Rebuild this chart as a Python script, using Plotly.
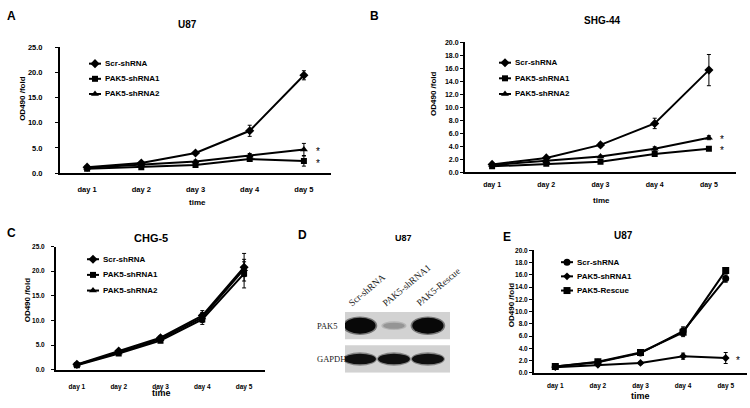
import plotly.graph_objects as go

W, H = 750, 408
days = ["day 1", "day 2", "day 3", "day 4", "day 5"]

# ---- Panel A: U87 ----
a_names = ["Scr-shRNA", "PAK5-shRNA1", "PAK5-shRNA2"]
a_scr = [1.2, 2.0, 4.0, 8.4, 19.4]
a_scr_err = [0.2, 0.3, 0.3, 1.1, 0.9]
a_sh1 = [0.9, 1.2, 1.6, 2.8, 2.4]
a_sh1_err = [0.1, 0.2, 0.2, 0.4, 1.0]
a_sh2 = [1.1, 1.7, 2.3, 3.5, 4.7]
a_sh2_err = [0.1, 0.2, 0.3, 0.4, 1.2]

# ---- Panel B: SHG-44 ----
b_names = ["Scr-shRNA", "PAK5-shRNA1", "PAK5-shRNA2"]
b_scr = [1.2, 2.2, 4.2, 7.5, 15.7]
b_scr_err = [0.2, 0.2, 0.3, 0.8, 2.4]
b_sh1 = [0.9, 1.3, 1.6, 2.8, 3.6]
b_sh1_err = [0.1, 0.1, 0.2, 0.3, 0.2]
b_sh2 = [1.1, 1.7, 2.4, 3.6, 5.3]
b_sh2_err = [0.1, 0.2, 0.2, 0.3, 0.3]

# ---- Panel C: CHG-5 ----
c_names = ["Scr-shRNA", "PAK5-shRNA1", "PAK5-shRNA2"]
c_scr = [1.1, 3.8, 6.5, 11.0, 20.8]
c_scr_err = [0.2, 0.3, 0.4, 1.0, 2.8]
c_sh1 = [0.9, 3.3, 5.9, 10.2, 19.5]
c_sh1_err = [0.2, 0.3, 0.4, 1.0, 2.9]
c_sh2 = [1.0, 3.5, 6.2, 10.6, 20.4]
c_sh2_err = [0.2, 0.3, 0.4, 1.0, 1.5]

# ---- Panel D: western blot U87 ----
d_lanes = ["Scr-shRNA", "PAK5-shRNA1", "PAK5-Rescue"]
d_rows = ["PAK5", "GAPDH"]
d_pak5 = [1.0, 0.22, 1.0]
d_gapdh = [0.9, 0.9, 0.9]

# ---- Panel E: U87 rescue ----
e_names = ["Scr-shRNA", "PAK5-shRNA1", "PAK5-Rescue"]
e_scr = [1.0, 1.7, 3.2, 6.8, 15.4]
e_scr_err = [0.2, 0.2, 0.3, 0.7, 0.6]
e_sh1 = [0.9, 1.3, 1.6, 2.7, 2.4]
e_sh1_err = [0.1, 0.2, 0.2, 0.5, 0.9]
e_res = [1.0, 1.8, 3.3, 6.6, 16.7]
e_res_err = [0.2, 0.2, 0.3, 0.7, 0.5]

FONT = "Liberation Sans, Arial, sans-serif"
SERIF = "Liberation Serif, Times New Roman, serif"
SYM_ABC = ["diamond", "square", "triangle-up"]
SYM_E = ["circle", "diamond", "square"]
SIZES = [7, 6, 7]


def px_x(px):
    return px / W


def px_y(py):
    return 1 - py / H


fig = go.Figure()


def add_series(xa, ya, names, values, errs, symbols):
    for n, v, e, s, sz in zip(names, values, errs, symbols, SIZES):
        fig.add_trace(go.Scatter(
            x=days, y=v, name=n, mode="lines+markers",
            xaxis=xa, yaxis=ya, showlegend=False,
            line=dict(color="black", width=2),
            marker=dict(symbol=s, size=sz, color="black"),
            error_y=dict(type="data", array=e, color="black", thickness=1, width=2),
        ))


add_series("x", "y", a_names, [a_scr, a_sh1, a_sh2], [a_scr_err, a_sh1_err, a_sh2_err], SYM_ABC)
add_series("x2", "y2", b_names, [b_scr, b_sh1, b_sh2], [b_scr_err, b_sh1_err, b_sh2_err], SYM_ABC)
add_series("x3", "y3", c_names, [c_scr, c_sh1, c_sh2], [c_scr_err, c_sh1_err, c_sh2_err], SYM_ABC)
add_series("x4", "y4", e_names, [e_scr, e_sh1, e_res], [e_scr_err, e_sh1_err, e_res_err], SYM_E)


def xaxis(x0, x1, anchor, tsize, standoff):
    return dict(domain=[px_x(x0), px_x(x1)], anchor=anchor, type="category",
                categoryorder="array", categoryarray=days, range=[-0.5, len(days) - 0.5],
                showline=True, linecolor="black", linewidth=2, ticks="",
                showgrid=False, zeroline=False,
                tickfont=dict(family=FONT, size=tsize, color="black", weight="bold"),
                ticklabelstandoff=standoff, fixedrange=True)


def yaxis(y_bottom, y_top, anchor, rng, dtick, tsize, standoff):
    return dict(domain=[px_y(y_bottom), px_y(y_top)], anchor=anchor, range=rng,
                dtick=dtick, tickformat=".1f",
                showline=True, linecolor="black", linewidth=2,
                ticks="outside", ticklen=3, tickcolor="black", tickwidth=1,
                showgrid=False, zeroline=False,
                tickfont=dict(family=FONT, size=tsize, color="black", weight="bold"),
                ticklabelstandoff=standoff, fixedrange=True)


layout = dict(
    width=W, height=H, margin=dict(l=0, r=0, t=0, b=0),
    paper_bgcolor="white", plot_bgcolor="rgba(0,0,0,0)",
    font=dict(family=FONT, color="black"),
    showlegend=False,
    xaxis=xaxis(60, 331, "y", 7.5, 8),
    yaxis=yaxis(173, 44, "x", [0, 25], 5, 7.5, 11),
    xaxis2=xaxis(465, 736, "y2", 7, 4),
    yaxis2=yaxis(172, 39, "x2", [0, 20], 2, 7, 0),
    xaxis3=xaxis(56, 265, "y3", 6.5, 9),
    yaxis3=yaxis(374, 248, "x3", [0, 25], 5, 6.5, 5),
    xaxis4=xaxis(534, 747, "y4", 6.5, 6),
    yaxis4=yaxis(377, 252, "x4", [0, 20], 2, 6.5, 0),
    xaxis5=dict(domain=[px_x(345), px_x(450)], anchor="y5", range=[0.56, 3.65],
                visible=False, fixedrange=True),
    yaxis5=dict(domain=[px_y(377), px_y(315)], anchor="x5", range=[0.59, 2.41],
                visible=False, fixedrange=True),
    # page-sized overlay used only to place the hand-drawn legend keys
    xaxis6=dict(domain=[0, 1], anchor="y6", range=[0, W], visible=False, fixedrange=True),
    yaxis6=dict(domain=[0, 1], anchor="x6", range=[H, 0], visible=False, fixedrange=True),
)
fig.update_layout(**layout)

ann = []


def txt(x, y, t, size, bold=True, family=FONT, angle=0, xa="center", ya="middle"):
    ann.append(dict(x=px_x(x), y=px_y(y), xref="paper", yref="paper",
                    text=("<b>%s</b>" % t) if bold else t,
                    showarrow=False, font=dict(family=family, size=size, color="black"),
                    textangle=angle, xanchor=xa, yanchor=ya))


# panel letters
txt(11, 12, "A", 12)
txt(374, 12, "B", 12)
txt(11, 234, "C", 12)
txt(302, 236, "D", 12)
txt(507, 238, "E", 12)
# titles
txt(187, 21, "U87", 10)
txt(602, 17, "SHG-44", 10)
txt(151, 239, "CHG-5", 11)
txt(403, 239, "U87", 9)
txt(623, 237, "U87", 10)
# y titles
txt(23, 97, "OD490 /fold", 8, angle=-90)
txt(434, 92, "OD490 /fold", 8, angle=-90)
txt(27, 302, "OD490 /fold", 8, angle=-90)
txt(511, 308, "OD490 /fold", 8, angle=-90)
# x titles
txt(197, 203, "time", 8)
txt(601, 201, "time", 8)
txt(161, 398, "time", 9)
txt(640, 401, "time", 9)


# hand-drawn legends (short keys like the original)
def legend(x0, y0, gap, names, symbols, size=8):
    for k, (n, s, sz) in enumerate(zip(names, symbols, SIZES)):
        yy = y0 + k * gap
        fig.add_trace(go.Scatter(x=[x0, x0 + 12], y=[yy, yy], mode="lines", xaxis="x6", yaxis="y6",
                                 line=dict(color="black", width=2), showlegend=False, hoverinfo="skip"))
        fig.add_trace(go.Scatter(x=[x0 + 6], y=[yy], mode="markers", xaxis="x6", yaxis="y6",
                                 marker=dict(symbol=s, size=sz, color="black"),
                                 showlegend=False, hoverinfo="skip"))
        txt(x0 + 14, yy, n, size, xa="left")


legend(89, 61, 15.5, a_names, SYM_ABC)
legend(499, 60, 16, b_names, SYM_ABC)
legend(87, 261, 16, c_names, SYM_ABC)
legend(561, 264, 14.5, e_names, SYM_E)

# western blot lane labels and row labels
for i, lane in enumerate(d_lanes):
    ann.append(dict(x=i + 0.6, y=px_y(314), xref="x5", yref="paper", text=lane, showarrow=False,
                    textangle=-40, xanchor="left", yanchor="bottom", xshift=-2,
                    font=dict(family=SERIF, size=9.5, color="#1a1a1a")))
row_shift = [-6, 3]
for r, row in enumerate(d_rows):
    yc = 2 - r
    ann.append(dict(x=0.56, y=yc, xref="x5", yref="y5", text=row, showarrow=False,
                    xanchor="right", xshift=row_shift[r],
                    font=dict(family=SERIF, size=8.5, color="#1a1a1a")))

fig.update_layout(annotations=ann)


# significance stars anchored to data
def star(xa, ya, y, shift):
    fig.add_annotation(x=days[-1], y=y, xref=xa, yref=ya, text="*", showarrow=False,
                       xshift=shift, yshift=-2, font=dict(family=FONT, size=10, color="black"))


star("x", "y", a_sh2[-1], 14)
star("x", "y", a_sh1[-1], 14)
star("x2", "y2", b_sh2[-1], 13)
star("x2", "y2", b_sh1[-1], 13)
star("x4", "y4", e_sh1[-1], 12)

# blot backgrounds and bands
for r, row in enumerate(d_rows):
    yc = 2 - r
    fig.add_shape(type="rect", xref="x5", yref="y5", x0=0.56, x1=3.65, y0=yc - 0.41, y1=yc + 0.41,
                  fillcolor="#d2d2d2", line=dict(width=0), layer="below")

for i, v in enumerate(d_pak5):
    x = i + 1
    hw = 0.28 + 0.18 * v
    hh = 0.05 + 0.19 * v
    g = int(190 - 182 * v)
    fig.add_shape(type="circle", xref="x5", yref="y5", x0=x - hw - 0.05, x1=x + hw + 0.05,
                  y0=2 - hh - 0.04, y1=2 + hh + 0.04,
                  fillcolor="rgba(%d,%d,%d,0.45)" % (g, g, g), line=dict(width=0))
    fig.add_shape(type="circle", xref="x5", yref="y5", x0=x - hw, x1=x + hw, y0=2 - hh, y1=2 + hh,
                  fillcolor="rgb(%d,%d,%d)" % (g, g, g), line=dict(width=0))
for i, v in enumerate(d_gapdh):
    x = i + 1
    hw = 0.47 * v / 0.9
    hh = 0.16 * v / 0.9
    fig.add_shape(type="circle", xref="x5", yref="y5", x0=x - hw - 0.03, x1=x + hw + 0.03,
                  y0=1 - hh - 0.04, y1=1 + hh + 0.04,
                  fillcolor="rgba(40,40,40,0.45)", line=dict(width=0))
    fig.add_shape(type="circle", xref="x5", yref="y5", x0=x - hw, x1=x + hw, y0=1 - hh, y1=1 + hh,
                  fillcolor="rgb(15,15,15)", line=dict(width=0))

fig.write_html("out.html", config={"displayModeBar": False},
               post_script="document.body.style.margin='0px';")
